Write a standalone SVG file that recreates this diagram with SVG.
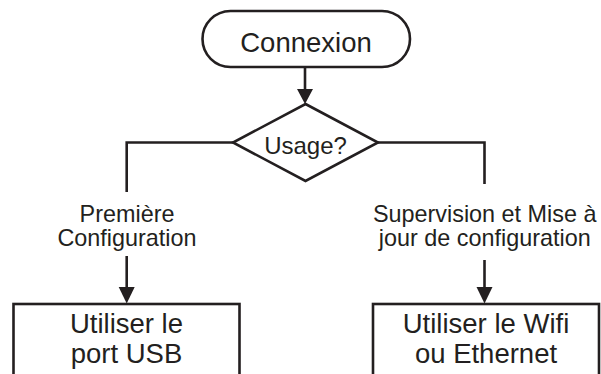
<svg xmlns="http://www.w3.org/2000/svg" width="601" height="374" viewBox="0 0 601 374">
<style>
.shape{fill:#fff;stroke:#231f20;stroke-width:2.6}
.line{fill:none;stroke:#231f20;stroke-width:2.6}
.head{fill:#231f20;stroke:none}
text{font-family:"Liberation Sans",Arial,sans-serif;fill:#231f20;text-anchor:middle}
.big{font-size:27.5px}
.mid{font-size:24px}
.lbl{font-size:23.4px}
</style>
<rect width="601" height="374" fill="#fff"/>
<g id="connectors">
<line class="line" x1="305" y1="67" x2="305" y2="90"/>
<polygon class="head" points="297,89 313,89 305,104"/>
<polyline class="line" points="233,142.5 126.7,142.5 126.7,192"/>
<line class="line" x1="126.7" y1="256" x2="126.7" y2="288"/>
<polygon class="head" points="118.7,287 134.7,287 126.7,303.5"/>
<polyline class="line" points="378,142.5 484.5,142.5 484.5,184"/>
<line class="line" x1="484.5" y1="260" x2="484.5" y2="288"/>
<polygon class="head" points="476.5,287 492.5,287 484.5,303.5"/>
<text class="lbl" x="127" y="222">Première</text>
<text class="lbl" x="127" y="245.5">Configuration</text>
<text class="lbl" x="484.7" y="222">Supervision et Mise à</text>
<text class="lbl" x="484.7" y="245.5">jour de configuration</text>
</g>
<g id="start">
<rect class="shape" x="202.5" y="11" width="207.5" height="56" rx="28" ry="28"/>
<text class="big" x="306" y="52">Connexion</text>
</g>
<g id="usage">
<polygon class="shape" points="305.5,104 378,142.5 305.5,181 233,142.5"/>
<text class="mid" x="305.5" y="154">Usage?</text>
</g>
<g id="usb">
<rect class="shape" x="13.5" y="304" width="226" height="80"/>
<text class="big" x="126.5" y="333">Utiliser le</text>
<text class="big" x="126.5" y="363">port USB</text>
</g>
<g id="wifi">
<rect class="shape" x="373" y="304" width="226" height="80"/>
<text class="big" x="486" y="333">Utiliser le Wifi</text>
<text class="big" x="486" y="363">ou Ethernet</text>
</g>
</svg>
